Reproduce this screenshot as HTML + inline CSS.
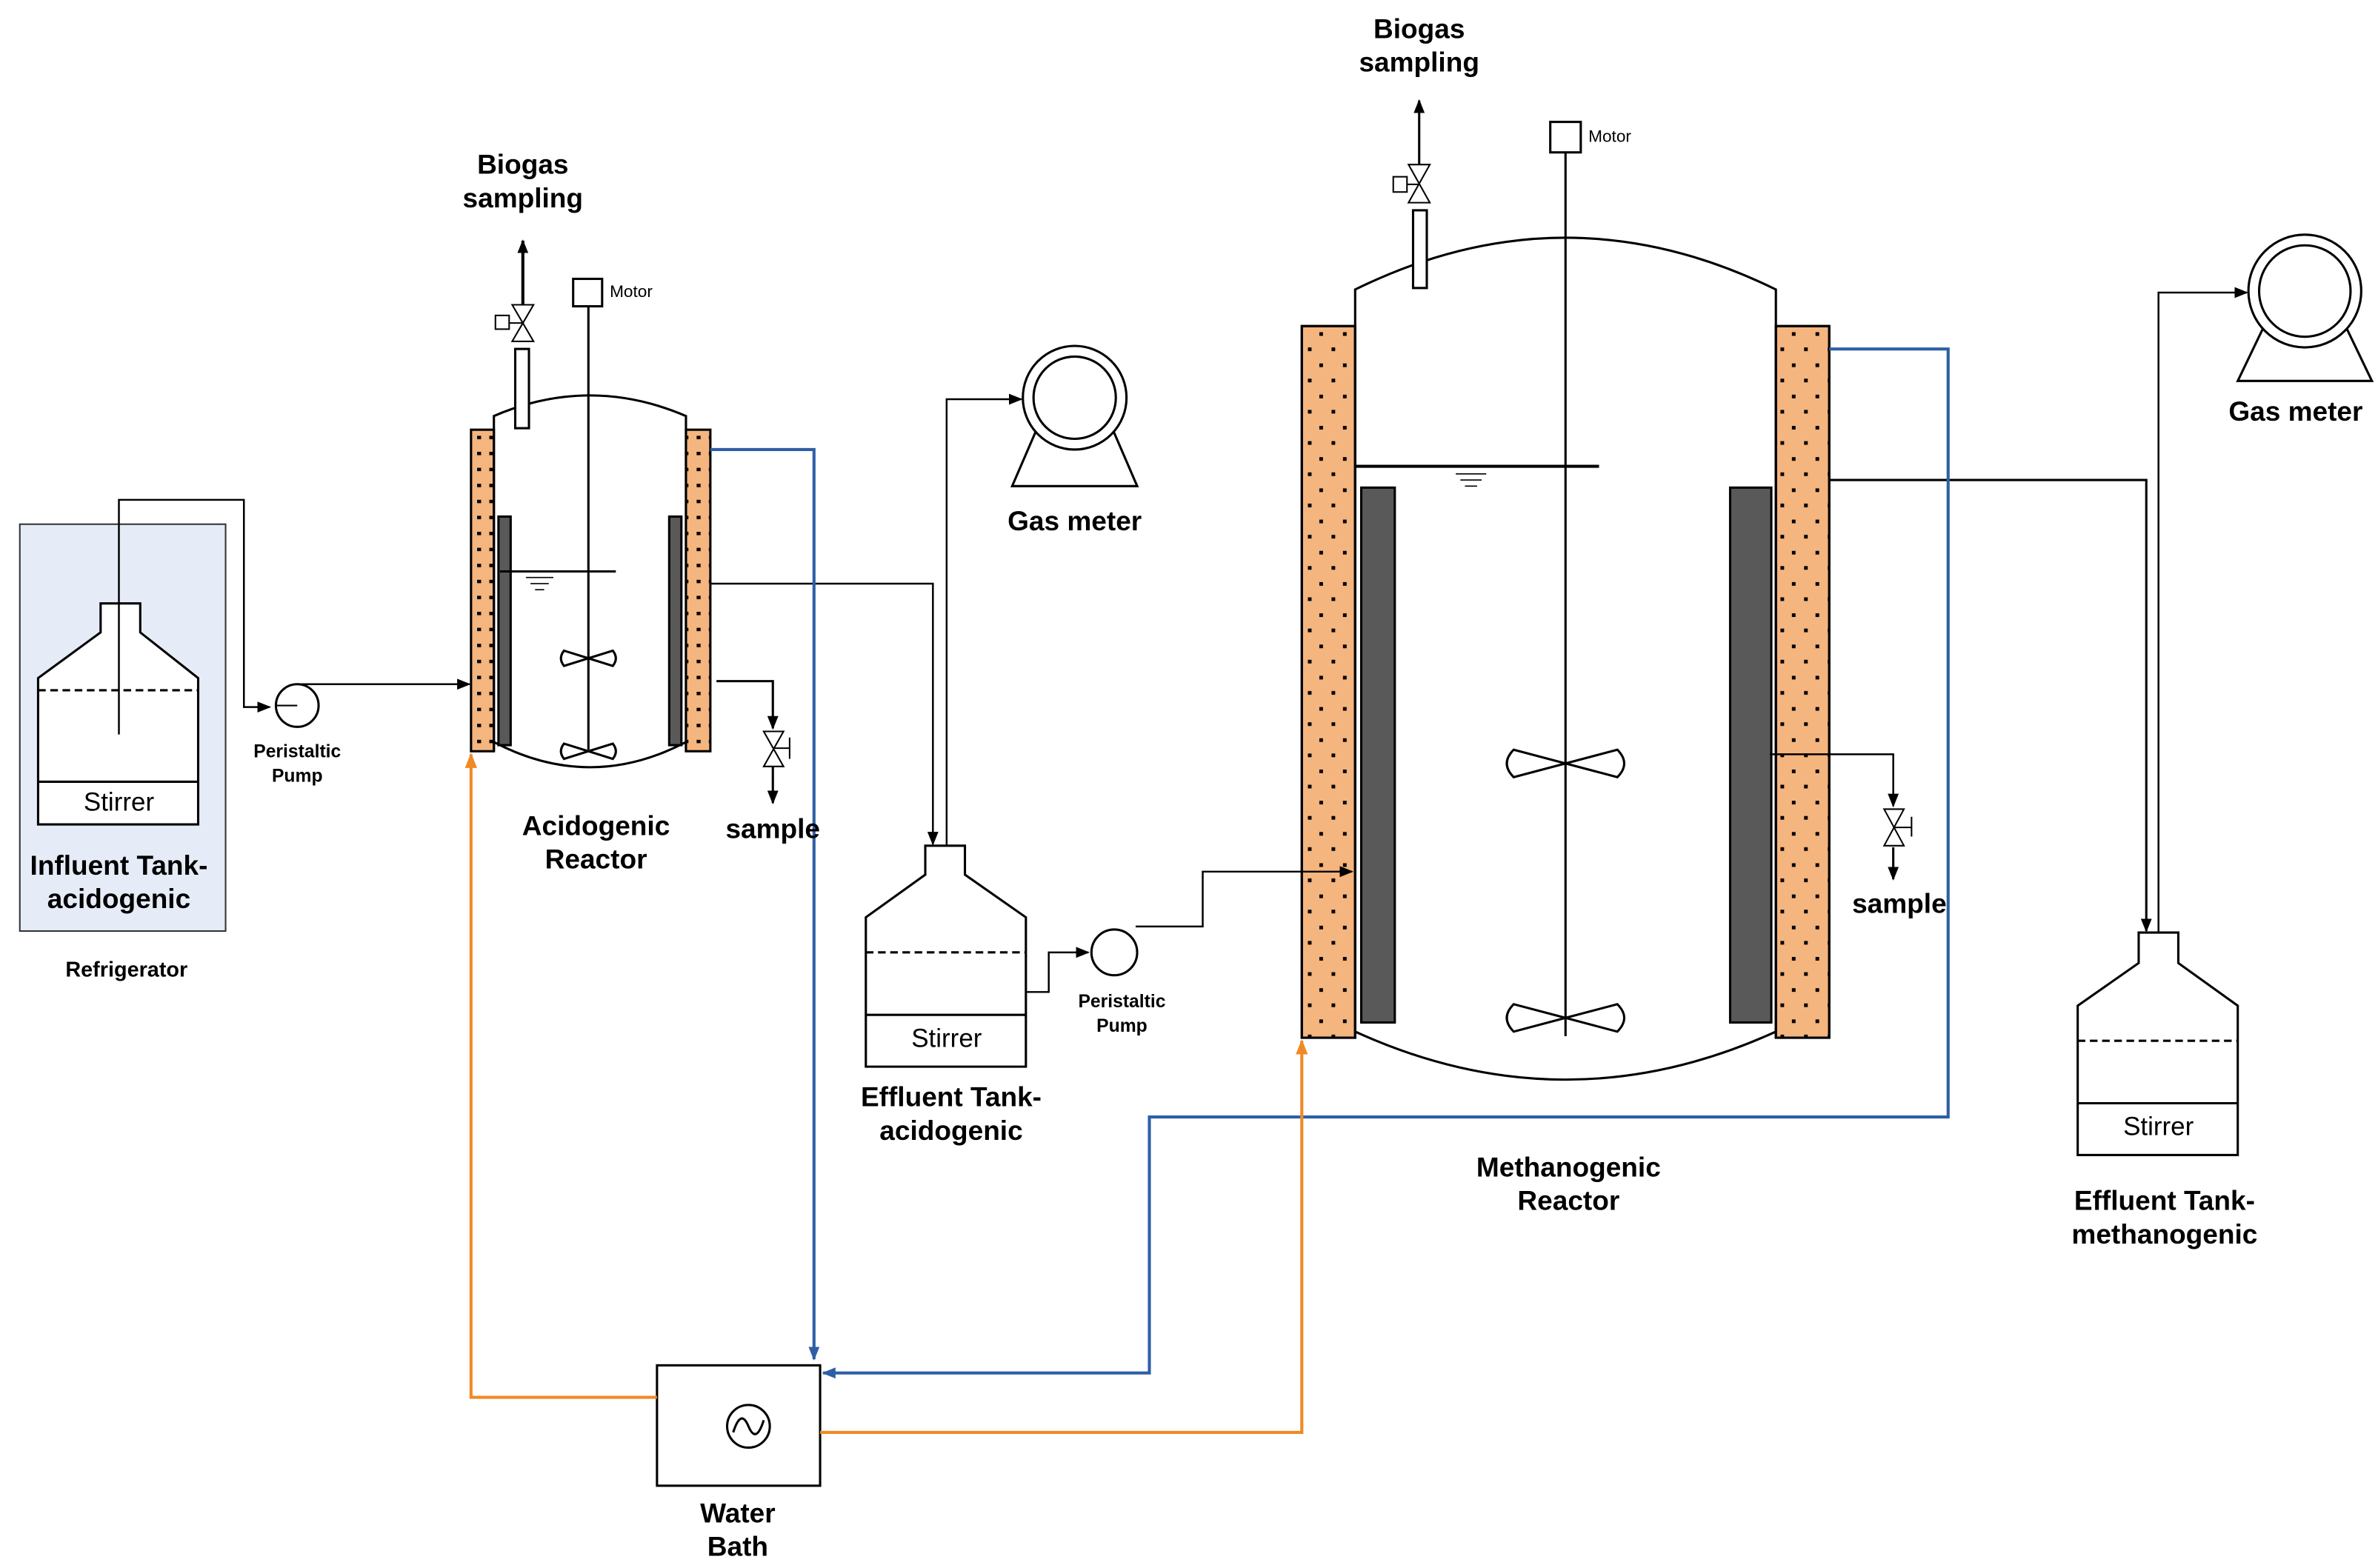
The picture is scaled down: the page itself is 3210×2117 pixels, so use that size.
<!DOCTYPE html>
<html><head><meta charset="utf-8"><style>html,body{margin:0;padding:0;background:#fff}svg{display:block}text{font-family:"Liberation Sans",sans-serif}</style></head><body>
<svg width="3210" height="2117" viewBox="0 0 1560 1029" preserveAspectRatio="none" xmlns="http://www.w3.org/2000/svg">
<defs>
<pattern id="pa" x="313" y="286" width="8" height="10.5" patternUnits="userSpaceOnUse"><rect x="0" y="0" width="2.6" height="2.2" fill="#000"/></pattern>
<pattern id="pm" x="858" y="218" width="15.5" height="20.5" patternUnits="userSpaceOnUse"><rect x="7.5" y="0" width="2.4" height="2.4" fill="#000"/><rect x="0" y="10" width="2.4" height="2.4" fill="#000"/><rect x="15.5" y="10" width="2.4" height="2.4" fill="#000"/></pattern>
<marker id="ar" viewBox="0 0 10 10" refX="9" refY="5" markerWidth="9" markerHeight="9" orient="auto" markerUnits="userSpaceOnUse"><path d="M0,1 L10,5 L0,9z" fill="#000"/></marker>
<marker id="ab" viewBox="0 0 10 10" refX="9" refY="5" markerWidth="9" markerHeight="9" orient="auto" markerUnits="userSpaceOnUse"><path d="M0,1 L10,5 L0,9z" fill="#2e5fa6"/></marker>
<marker id="ao" viewBox="0 0 10 10" refX="9" refY="5" markerWidth="10" markerHeight="10" orient="auto" markerUnits="userSpaceOnUse"><path d="M0,1 L10,5 L0,9z" fill="#f08a24"/></marker>
</defs>
<g fill="none" stroke="#000" stroke-width="1.5">
<!-- refrigerator -->
<rect x="13" y="344" width="135" height="267" fill="#e6ecf7" stroke="#333" stroke-width="1"/>
<path d="M66,396 H92 V415 L130,445 V541 H25 V445 L66,415 Z" fill="#fff"/>
<line x1="25" y1="513" x2="130" y2="513"/>
<line x1="25" y1="453" x2="130" y2="453" stroke-dasharray="5,3"/>
<path d="M78,482 V328 H160 V464 H177" marker-end="url(#ar)" stroke-width="1.2"/>
<circle cx="195" cy="463" r="14"/>
<path d="M195,463 L181,463" stroke-width="1"/>
<!-- acidogenic reactor -->
<rect x="309" y="282" width="15" height="211" fill="#f5b57e"/><rect x="309" y="282" width="15" height="211" fill="url(#pa)" stroke="none"/>
<rect x="450" y="282" width="16" height="211" fill="#f5b57e"/><rect x="450" y="282" width="16" height="211" fill="url(#pa)" stroke="none"/>
<path d="M324,493 V273 Q387,246 450,273 V493" />
<path d="M324,487 Q387,520 450,487" />
<rect x="327" y="339" width="8" height="150" fill="#595959"/><rect x="439" y="339" width="8" height="150" fill="#595959"/>
<line x1="386" y1="201" x2="386" y2="492"/>
<rect x="376" y="183" width="19" height="18" fill="#fff"/>
<line x1="328" y1="375" x2="404" y2="375"/>
<path d="M345,379 H363 M348,383 H360 M351,387 H357" stroke-width="0.8"/>
<path d="M386,432 L370,427 Q366,432 370,437 Z M386,432 L402,427 Q406,432 402,437 Z"/>
<path d="M386,493 L370,488 Q366,493 370,498 Z M386,493 L402,488 Q406,493 402,498 Z"/>
<rect x="338" y="229" width="9" height="52" fill="#fff"/>
<path d="M336,200 H350 L336,224 H350 Z" stroke-width="1"/><rect x="325" y="207" width="9" height="9" stroke-width="1"/><line x1="334" y1="212" x2="343" y2="212" stroke-width="1"/>
<path d="M343,200 V158" marker-end="url(#ar)" stroke-width="2"/>
<path d="M470,447 H507 V478" marker-end="url(#ar)" stroke-width="1.5"/>
<path d="M501,480 H514 L501,503 H514 Z" stroke-width="1"/><line x1="518" y1="484" x2="518" y2="498" stroke-width="1"/><line x1="508" y1="491" x2="518" y2="491" stroke-width="1"/>
<path d="M507,503 V527" marker-end="url(#ar)" stroke-width="1.5"/>
<!-- gas meter 1 -->
<path d="M686,268 L664,319 H746 L724,268" fill="#fff"/>
<circle cx="705" cy="261" r="34" fill="#fff"/><circle cx="705" cy="261" r="27"/>
<!-- effluent tank acid -->
<path d="M607,555 H633 V574 L673,602 V700 H568 V602 L607,574 Z" fill="#fff"/>
<line x1="568" y1="666" x2="673" y2="666"/>
<line x1="568" y1="625" x2="673" y2="625" stroke-dasharray="5,3"/>
<circle cx="731" cy="625" r="15"/>
<!-- methanogenic reactor -->
<rect x="854" y="214" width="35" height="467" fill="#f5b57e"/><rect x="854" y="214" width="35" height="467" fill="url(#pm)" stroke="none"/>
<rect x="1165" y="214" width="35" height="467" fill="#f5b57e"/><rect x="1165" y="214" width="35" height="467" fill="url(#pm)" stroke="none"/>
<rect x="854" y="214" width="35" height="467"/><rect x="1165" y="214" width="35" height="467"/>
<path d="M889,681 V190 Q1027,122 1165,190 V681"/>
<path d="M889,677 Q1027,740 1165,677"/>
<rect x="893" y="320" width="22" height="351" fill="#595959"/><rect x="1135" y="320" width="27" height="351" fill="#595959"/>
<line x1="1027" y1="100" x2="1027" y2="680"/>
<rect x="1017" y="80" width="20" height="20" fill="#fff"/>
<line x1="889" y1="306" x2="1049" y2="306" stroke-width="2"/>
<path d="M955,311 H975 M958,315 H972 M961,319 H969" stroke-width="0.8"/>
<path d="M1027,501 L993,492 Q984,501 993,510 Z M1027,501 L1061,492 Q1070,501 1061,510 Z"/>
<path d="M1027,668 L993,659 Q984,668 993,677 Z M1027,668 L1061,659 Q1070,668 1061,677 Z"/>
<rect x="927" y="138" width="9" height="51" fill="#fff"/>
<path d="M924,108 H938 L924,133 H938 Z" stroke-width="1"/><rect x="914" y="116" width="9" height="10" stroke-width="1"/><line x1="923" y1="121" x2="931" y2="121" stroke-width="1"/>
<path d="M931,108 V66" marker-end="url(#ar)" stroke-width="1.5"/>
<path d="M1161,495 H1242 V529" marker-end="url(#ar)" stroke-width="1.2"/>
<path d="M1236,531 H1249 L1236,555 H1249 Z" stroke-width="1"/><line x1="1254" y1="536" x2="1254" y2="549" stroke-width="1"/><line x1="1243" y1="543" x2="1254" y2="543" stroke-width="1"/>
<path d="M1242,556 V577" marker-end="url(#ar)" stroke-width="1.5"/>
<!-- gas meter 2 -->
<path d="M1492,200 L1468,250 H1556 L1532,200" fill="#fff"/>
<circle cx="1512" cy="191" r="37" fill="#fff"/><circle cx="1512" cy="191" r="30"/>
<!-- effluent meth -->
<path d="M1403,612 H1429 V632 L1468,660 V758 H1363 V660 L1403,632 Z" fill="#fff"/>
<line x1="1363" y1="724" x2="1468" y2="724"/>
<line x1="1363" y1="683" x2="1468" y2="683" stroke-dasharray="5,3"/>
<!-- water bath -->
<rect x="431" y="896" width="107" height="79"/>
<circle cx="491" cy="936" r="14"/>
<path d="M481,940 Q486,924 491,936 Q496,948 501,932"/>
<!-- connectors -->
<path d="M195,449 H308" marker-end="url(#ar)" stroke-width="1.2"/>
<path d="M466,383 H612 V554" marker-end="url(#ar)" stroke-width="1.2"/>
<path d="M621,555 V262 H670" marker-end="url(#ar)" stroke-width="1.2"/>
<path d="M673,651 H688 V625 H714" marker-end="url(#ar)" stroke-width="1.2"/>
<path d="M745,608 H789 V572 H887" marker-end="url(#ar)" stroke-width="1.2"/>
<path d="M1200,315 H1408 V611" marker-end="url(#ar)" stroke-width="1.5"/>
<path d="M1416,612 V192 H1474" marker-end="url(#ar)" stroke-width="1.2"/>
</g>
<g fill="none" stroke-width="2">
<path d="M466,295 H534 V892" stroke="#2e5fa6" marker-end="url(#ab)"/>
<path d="M1200,229 H1278 V733 H754 V901 H540" stroke="#2e5fa6" marker-end="url(#ab)"/>
<path d="M431,917 H309 V495" stroke="#f08a24" marker-end="url(#ao)"/>
<path d="M538,940 H854 V683" stroke="#f08a24" marker-end="url(#ao)"/>
</g>
<g font-weight="bold" font-size="18" text-anchor="middle" fill="#000">
<text x="343" y="114">Biogas</text><text x="343" y="136">sampling</text>
<text x="931" y="25">Biogas</text><text x="931" y="47">sampling</text>
<text x="78" y="574">Influent Tank-</text><text x="78" y="596">acidogenic</text>
<text x="391" y="548">Acidogenic</text><text x="391" y="570">Reactor</text>
<text x="507" y="550">sample</text><text x="1246" y="599">sample</text>
<text x="705" y="348">Gas meter</text><text x="1506" y="276">Gas meter</text>
<text x="624" y="726">Effluent Tank-</text><text x="624" y="748">acidogenic</text>
<text x="1029" y="772">Methanogenic</text><text x="1029" y="794">Reactor</text>
<text x="1420" y="794">Effluent Tank-</text><text x="1420" y="816">methanogenic</text>
<text x="484" y="999">Water</text><text x="484" y="1021">Bath</text>
<text x="83" y="641" font-size="14">Refrigerator</text>
<text x="195" y="497" font-size="12">Peristaltic</text><text x="195" y="513" font-size="12">Pump</text>
<text x="736" y="661" font-size="12">Peristaltic</text><text x="736" y="677" font-size="12">Pump</text>
</g>
<g font-size="17" text-anchor="middle" fill="#000"><text x="78" y="532">Stirrer</text><text x="621" y="687">Stirrer</text><text x="1416" y="745">Stirrer</text></g>
<text x="400" y="195" font-size="11">Motor</text><text x="1042" y="93" font-size="11">Motor</text>
</svg>
</body></html>
